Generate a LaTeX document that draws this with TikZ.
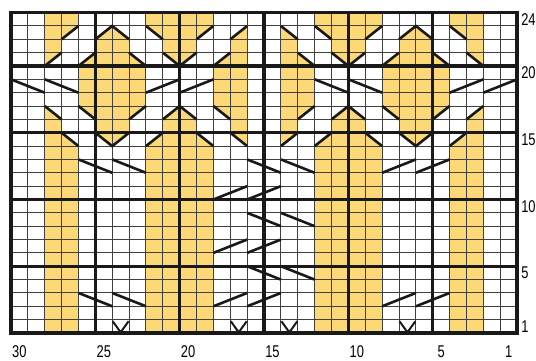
\documentclass[tikz,border=0pt]{standalone}
\usepackage{fontspec}
\newfontfamily\labfont[FakeStretch=0.76]{Liberation Sans}
\definecolor{knityellow}{RGB}{253,216,118}
\begin{document}
\begin{tikzpicture}[x=16.87pt,y=13.35pt,
  cell/.style={fill=knityellow},
  gridthin/.style={line width=1pt,black!75},
  gridthick/.style={line width=3.2pt,black!90},
  cable/.style={line width=2.6pt,black!90},
  vmark/.style={line width=2pt,black!90},
  lab/.style={inner sep=0pt,font=\labfont\fontsize{17}{18}\selectfont}]
\useasboundingbox (-11pt,-27pt) rectangle (525pt,333pt);

% ---------- yellow fills ----------
\foreach \d in {0,18}{
  \fill[cell,shift={(\d,0)}] (6,23)--(7,22)--(7,21)--(8,20)--(8,17)--(7,16)--(7,15)--(6,14)--(5,15)--(5,16)--(4,17)--(4,20)--(5,21)--(5,22)--cycle;
}
\fill[cell] (2,24)--(4,24)--(4,23)--(3,22)--(3,21)--(2,20)--cycle;
\fill[cell] (28,24)--(26,24)--(26,23)--(27,22)--(27,21)--(28,20)--cycle;
\foreach \d in {0,10}{
  \fill[cell,shift={(\d,0)}] (8,24)--(12,24)--(12,23)--(11,22)--(11,21)--(10,20)--(9,21)--(9,22)--(8,23)--cycle;
  \fill[cell,shift={(\d,0)}] (8,0)--(8,14)--(9,15)--(9,16)--(10,17)--(11,16)--(11,15)--(12,14)--(12,0)--cycle;
}
\fill[cell] (14,23)--(14,14)--(13,15)--(13,16)--(12,17)--(12,20)--(13,21)--(13,22)--cycle;
\fill[cell] (16,23)--(17,22)--(17,21)--(18,20)--(18,17)--(17,16)--(17,15)--(16,14)--cycle;
\fill[cell] (2,0)--(2,17)--(3,16)--(3,15)--(4,14)--(4,0)--cycle;
\fill[cell] (28,0)--(28,17)--(27,16)--(27,15)--(26,14)--(26,0)--cycle;

% ---------- grid ----------
\foreach \c in {1,...,29} \draw[gridthin] (\c,0)--(\c,24);
\foreach \r in {1,...,23} \draw[gridthin] (0,\r)--(30,\r);
\foreach \c in {5,10,15,20,25} \draw[gridthick] (\c,0)--(\c,24);
\foreach \r in {5,10,15,20} \draw[gridthick] (0,\r)--(30,\r);
\draw[line width=3.5pt,black!90] (0,0) rectangle (30,24);

% ---------- edges of the yellow shapes ----------
\foreach \d in {0,18}{
  \begin{scope}[shift={(\d,0)}]
    \draw[cable] (5,22)--(6,23)--(7,22);
    \draw[cable] (4,20)--(5,21);
    \draw[cable] (7,21)--(8,20);
    \draw[cable] (4,17)--(5,16);
    \draw[cable] (8,17)--(7,16);
    \draw[cable] (5,15)--(6,14)--(7,15);
  \end{scope}
}
\draw[cable] (4,23)--(3,22);
\draw[cable] (3,21)--(2,20);
\draw[cable] (26,23)--(27,22);
\draw[cable] (27,21)--(28,20);
\foreach \d in {0,10}{
  \begin{scope}[shift={(\d,0)}]
    \draw[cable] (8,23)--(9,22);
    \draw[cable] (12,23)--(11,22);
    \draw[cable] (9,21)--(10,20)--(11,21);
    \draw[cable] (8,14)--(9,15);
    \draw[cable] (9,16)--(10,17)--(11,16);
    \draw[cable] (11,15)--(12,14);
  \end{scope}
}
\draw[cable] (13,22)--(14,23);
\draw[cable] (12,20)--(13,21);
\draw[cable] (12,17)--(13,16);
\draw[cable] (13,15)--(14,14);
\draw[cable] (16,23)--(17,22);
\draw[cable] (17,21)--(18,20);
\draw[cable] (18,17)--(17,16);
\draw[cable] (17,15)--(16,14);
\draw[cable] (2,17)--(3,16);
\draw[cable] (3,15)--(4,14);
\draw[cable] (28,17)--(27,16);
\draw[cable] (27,15)--(26,14);

% ---------- cable crossings ----------
% rows 19-18
\draw[cable] (0,19)--(2,18);
\draw[cable] (2,19)--(4,18);
\draw[cable] (8,18)--(10,19);
\draw[cable] (10,18)--(12,19);
\draw[cable] (18,19)--(20,18);
\draw[cable] (20,19)--(22,18);
\draw[cable] (26,18)--(28,19);
\draw[cable] (28,18)--(30,19);
% rows 13-12
\draw[cable] (4,13)--(6,12);
\draw[cable] (6,13)--(8,12);
\draw[cable] (14,13)--(16,12);
\draw[cable] (16,13)--(18,12);
\draw[cable] (22,12)--(24,13);
\draw[cable] (24,12)--(26,13);
% rows 11-10
\draw[cable] (12,10)--(14,11);
\draw[cable] (14,10)--(16,11);
% rows 9-8
\draw[cable] (14,9)--(16,8);
\draw[cable] (16,9)--(18,8);
% rows 7-6
\draw[cable] (12,6)--(14,7);
\draw[cable] (14,6)--(16,7);
% rows 5-4
\draw[cable] (14,5)--(16,4);
\draw[cable] (16,5)--(18,4);
% rows 3-2
\draw[cable] (4,3)--(6,2);
\draw[cable] (6,3)--(8,2);
\draw[cable] (12,2)--(14,3);
\draw[cable] (14,2)--(16,3);
\draw[cable] (22,2)--(24,3);
\draw[cable] (24,2)--(26,3);

% ---------- decreases (V) in row 1 ----------
\foreach \c in {6,13,16,23}
  \draw[vmark] (\c+0.03,0.88)--(\c+0.5,0.05)--(\c+0.97,0.88);

% ---------- row numbers ----------
\node[lab,anchor=west,xshift=4pt] (r24) at (30,23.5) {24};
\node[lab,anchor=west,xshift=4pt] (r20) at (30,19.5) {20};
\node[lab,anchor=west,xshift=4pt] (r15) at (30,14.5) {15};
\node[lab,anchor=west,xshift=4pt] (r10) at (30,9.5) {10};
\node[lab,anchor=west,xshift=4pt] (r5) at (30,4.5) {5};
\node[lab,anchor=west,xshift=4pt] (r1) at (30,0.5) {1};

% ---------- stitch numbers ----------
\node[lab] (s30) at (0.5,-18.8pt) {30};
\node[lab] (s25) at (5.5,-18.8pt) {25};
\node[lab] (s20) at (10.5,-18.8pt) {20};
\node[lab] (s15) at (15.5,-18.8pt) {15};
\node[lab] (s10) at (20.5,-18.8pt) {10};
\node[lab] (s5) at (25.5,-18.8pt) {5};
\node[lab] (s1) at (29.5,-18.8pt) {1};
\end{tikzpicture}
\end{document}
